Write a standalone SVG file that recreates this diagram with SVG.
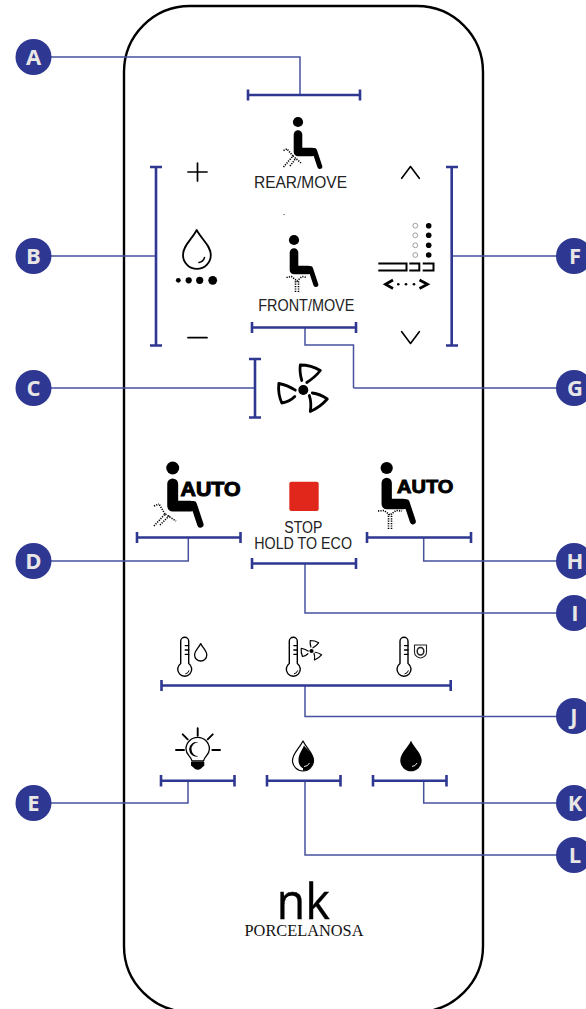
<svg xmlns="http://www.w3.org/2000/svg" width="586" height="1009" viewBox="0 0 586 1009">
<style>
.lead{fill:none;stroke:#47519f;stroke-width:1.5}
.br{fill:none;stroke:#2e3791;stroke-width:2.6}
.dot{fill:#2e3791}
.lt{font-family:"Open Sans","Noto Sans",sans-serif;font-weight:700;font-size:22px;fill:#e9e6e6;text-anchor:middle}
.lab{font-family:"Liberation Sans",Arial,sans-serif;font-size:16px;fill:#222}
.auto{font-family:"Liberation Sans",Arial,sans-serif;font-weight:700;fill:#000;stroke:#000}
.ic{fill:none;stroke:#000;stroke-linecap:round;stroke-linejoin:round}
.k{fill:#000}
.sp{fill:none;stroke:#000;stroke-width:1.600;stroke-dasharray:1.2 1.2}
</style>
<defs>
<g id="fig">
<circle cx="0" cy="0" r="5.100" fill="#000"/>
<path d="M0 12.500V30H14" fill="none" stroke="#000" stroke-width="8.600" stroke-linecap="round" stroke-linejoin="round"/>
<path d="M13 28.500H16.500L21.800 44.500" fill="none" stroke="#000" stroke-width="5" stroke-linecap="round" stroke-linejoin="round"/>
</g>
<path id="dropshape" d="M0 -15C-4 -7 -10.500 -2.500 -10.500 4.500A10.500 10.500 0 0 0 10.500 4.500C10.500 -2.500 4 -7 0 -15Z"/>
<g id="fan" class="ic">
<circle cx="0" cy="0" r="5" fill="#000" stroke="none"/>
<path d="M-1.500 -9.500Q-4 -18 -3 -25Q8 -25 17 -19.500Q12 -13 3.500 -7.500M-8 0.200Q-16 -5 -24.500 -6.500Q-25.500 4 -21.500 13Q-14 12 -8.500 6.500M6 5.500Q8.500 13 7 21.500Q17 17 24 9Q17 4 9 3" stroke-width="2.800"/>
</g>
<g id="thermo">
<path class="ic" stroke-width="1.400" d="M-4 -5.800V-28A4 4 0 0 1 4 -28V-5.800A7 7 0 1 1 -4 -5.800Z"/>
<path class="ic" stroke-width="1.300" stroke-linecap="butt" d="M0.500 -23.700H4M0.500 -19.300H4M0.500 -15H4"/>
<path class="ic" stroke-width="1" d="M1 4.500A4 4 0 0 0 4.300 1.500"/>
</g>
</defs>

<rect id="body" x="124" y="6" width="359" height="1006" rx="66" fill="#fff" stroke="#000" stroke-width="2.400"/>

<g id="connectors">
<path class="lead" d="M33 57H300V95M33 256H156M574 256H452M353.500 388H574M353.500 388V345H305V328M33 388H255M33 561H188.300V538M574 561H423.700V538M574 613H305V563M574 716.500H305V686M33 803H188V781M574 855H305V781M574 803H423.700V781"/>
<path class="br" d="M248 95H360M248 89.500V100.500M360 89.500V100.500"/>
<path class="br" d="M156 167V345.500M150 167H162M150 345.500H162"/>
<path class="br" d="M451.700 167V345.500M446 167H458M446 345.500H458"/>
<path class="br" d="M252 327.500H356M252 322V333M356 322V333"/>
<path class="br" d="M255 359V417.500M249 359H261M249 417.500H261"/>
<path class="br" d="M137 537.500H240.500M137 532V543M240.500 532V543"/>
<path class="br" d="M367 537.500H471M367 532V543M471 532V543"/>
<path class="br" d="M252 563.500H356M252 558V569M356 558V569"/>
<path class="br" d="M161.500 685.500H450.700M161.500 680V691M450.700 680V691"/>
<path class="br" d="M161 780.700H234.500M161 775V786.500M234.500 775V786.500"/>
<path class="br" d="M267 780.700H340.500M267 775V786.500M340.500 775V786.500"/>
<path class="br" d="M373 780.700H446.500M373 775V786.500M446.500 775V786.500"/>
</g>

<g id="badge-A"><circle class="dot" cx="33.500" cy="57" r="18"/><text class="lt" x="33.500" y="65">A</text></g>
<g id="badge-B"><circle class="dot" cx="33.500" cy="256" r="18"/><text class="lt" x="33.500" y="264">B</text></g>
<g id="badge-C"><circle class="dot" cx="33.500" cy="388" r="18"/><text class="lt" x="33.500" y="396">C</text></g>
<g id="badge-D"><circle class="dot" cx="33.500" cy="561" r="18"/><text class="lt" x="33.500" y="569">D</text></g>
<g id="badge-E"><circle class="dot" cx="33.500" cy="803" r="18"/><text class="lt" x="33.500" y="811">E</text></g>
<g id="badge-F"><circle class="dot" cx="574" cy="256" r="18"/><text class="lt" x="575" y="264">F</text></g>
<g id="badge-G"><circle class="dot" cx="574" cy="388" r="18"/><text class="lt" x="575" y="396">G</text></g>
<g id="badge-H"><circle class="dot" cx="574" cy="561" r="18"/><text class="lt" x="575" y="569">H</text></g>
<g id="badge-I"><circle class="dot" cx="574" cy="613" r="18"/><text class="lt" x="575" y="621">I</text></g>
<g id="badge-J"><circle class="dot" cx="574" cy="716" r="18"/><text class="lt" x="574" y="724">J</text></g>
<g id="badge-K"><circle class="dot" cx="574" cy="803" r="18"/><text class="lt" x="575" y="811">K</text></g>
<g id="badge-L"><circle class="dot" cx="574" cy="855" r="18"/><text class="lt" x="575" y="863">L</text></g>

<g id="rear-move">
<use href="#fig" x="298" y="122"/>
<path class="sp" d="M283.500 167L293 156L301 163M293 156L287 149M283.500 150.500L287 149M290 166L296 158"/>
<text class="lab" x="254" y="188" textLength="93" lengthAdjust="spacingAndGlyphs">REAR/MOVE</text>
</g>
<rect x="283.600" y="214" width="1" height="1" fill="#333"/>
<g id="front-move">
<use href="#fig" x="294" y="240"/>
<path class="sp" d="M295.500 292V280M298.500 292V280M286.500 277.500L291.500 276.500L297 281L302 276.500L307 277.500"/>
<text class="lab" x="258.300" y="311" textLength="96" lengthAdjust="spacingAndGlyphs">FRONT/MOVE</text>
</g>
<g id="water-pressure">
<path class="ic" stroke-width="1.700" stroke-linecap="butt" d="M197.500 163V181M188 172H207M188 337.700H207"/>
<path class="ic" stroke-width="1.800" d="M196.700 230C191.500 240 183 245.500 183 255A13.900 13.900 0 0 0 210.800 255C210.800 245.500 202 240 196.700 230Z"/>
<path class="ic" stroke-width="1.500" d="M199 262.500A7 7 0 0 0 204.500 257.500"/>
<circle class="k" cx="178.300" cy="280.300" r="2.400"/><circle class="k" cx="188.700" cy="280.300" r="3.100"/><circle class="k" cx="199.700" cy="280.300" r="3.600"/><circle class="k" cx="212.700" cy="280.300" r="4.400"/>
</g>
<g id="nozzle">
<path class="ic" stroke-width="1.600" stroke-linecap="butt" d="M401.700 178.300L410.500 166.500L419.300 178.300M401.700 331.700L410.500 343.500L419.300 331.700"/>
<g fill="#fff" stroke="#777" stroke-width="0.700"><circle cx="415.300" cy="225.700" r="2.400"/><circle cx="415.300" cy="235.300" r="2.400"/><circle cx="415.300" cy="245.300" r="2.400"/><circle cx="415.300" cy="255" r="2.400"/></g>
<circle class="k" cx="428.700" cy="225.700" r="2.800"/><circle class="k" cx="428.700" cy="235.300" r="2.800"/><circle class="k" cx="428.700" cy="245.300" r="2.800"/><circle class="k" cx="428.700" cy="255" r="2.800"/>
<path fill="none" stroke="#000" stroke-width="2" d="M378.300 263.500H406.500V270.500H378.300M409.300 263.500H419.300V270.500H409.300M422.700 263.500H433.500V270.500H422.700"/>
<path fill="none" stroke="#000" stroke-width="2.700" d="M393 280L385.500 284.300L393 288.500M419.500 280L427.500 284.300L419.500 288.500"/>
<circle class="k" cx="398.300" cy="284.300" r="1.300"/><circle class="k" cx="406" cy="284.300" r="1.300"/><circle class="k" cx="414" cy="284.300" r="1.300"/>
</g>
<g id="dryer"><use href="#fan" x="303.300" y="390"/></g>
<g id="auto-rear">
<use href="#fig" transform="translate(172.700 468) scale(1.270)"/>
<path class="sp" d="M154 526L165 514L176 521M165 514L159 504M154 506L159 504M160 525L170 515" stroke-width="1.800"/>
<text class="auto" x="180.500" y="495.500" font-size="19.500" stroke-width="1" textLength="60" lengthAdjust="spacingAndGlyphs">AUTO</text>
</g>
<g id="stop">
<rect x="289.300" y="481.700" width="29.400" height="29.400" rx="2" fill="#e1271b"/>
<text class="lab" x="284.300" y="532.700" textLength="38" lengthAdjust="spacingAndGlyphs">STOP</text>
<text class="lab" x="254.300" y="549" textLength="97.700" lengthAdjust="spacingAndGlyphs">HOLD TO ECO</text>
</g>
<g id="auto-front">
<use href="#fig" transform="translate(386.700 468) scale(1.200)"/>
<path class="sp" d="M388.500 529V514M391.500 529V514M378 511L384 510.500L390 515L396 510.500L402 511" stroke-width="1.500"/>
<text class="auto" x="397" y="493.300" font-size="17.500" stroke-width="0.900" textLength="56.300" lengthAdjust="spacingAndGlyphs">AUTO</text>
</g>
<g id="temp-water">
<use href="#thermo" x="184.700" y="669.300"/>
<use href="#dropshape" transform="translate(200.700 652.300) scale(0.580)" fill="none" stroke="#000" stroke-width="2.200" stroke-linejoin="round"/>
</g>
<g id="temp-air">
<use href="#thermo" x="293.300" y="669.300"/>
<use href="#fan" transform="translate(311.500 651) scale(0.420)"/>
</g>
<g id="temp-seat">
<use href="#thermo" x="404" y="669.300"/>
<path d="M414.500 645H426.500V652.500C426.500 655.500 423 658 420.500 658C418 658 414.500 655.500 414.500 652.500Z" fill="none" stroke="#222" stroke-width="1.100" stroke-linejoin="round"/>
<ellipse cx="420.500" cy="651.300" rx="3.300" ry="3.800" fill="none" stroke="#222" stroke-width="1.500"/>
</g>
<g id="night-light">
<path class="ic" stroke-width="1.900" stroke-linecap="butt" d="M197.700 728.300V735.700M176 750H184M212.300 750H220M182.700 734.300L187.700 739.300M212.700 734.300L207.700 739.300"/>
<path class="ic" stroke-width="1.300" d="M192 761C191 756 186 755 186 749A11.700 11.700 0 0 1 209.400 749C209.400 755 204.500 756 203.500 761Z"/>
<path class="k" d="M198.500 742.300A7.300 7.300 0 1 0 198.500 756.300A6 6 0 1 1 198.500 742.300Z"/>
<path class="k" d="M191 762H204.300V765.500L201 768.500Q197.700 771 194.500 768.500L191 765.500Z"/>
</g>
<g id="drop-half">
<use href="#dropshape" transform="translate(303 756)" fill="#fff" stroke="#000" stroke-width="1.200" stroke-linejoin="round"/>
<path class="k" d="M304 745.500C302 750.500 298.500 754 298.500 760C298.500 764 300 766.800 303 768.300V770.700A10.500 10.500 0 0 0 313.500 760.500C313.500 753.500 307.500 750 304 745.500Z"/>
<path fill="none" stroke="#fff" stroke-width="0.900" d="M304 766.500A6 6 0 0 0 309.500 763"/>
</g>
<g id="drop-full">
<use href="#dropshape" transform="translate(411 756) scale(1.020)" class="k"/>
<path fill="none" stroke="#fff" stroke-width="0.900" d="M412 766.500A6 6 0 0 0 417 763"/>
</g>
<g id="logo">
<text x="276.500" y="919.300" font-family="'Open Sans','Noto Sans',sans-serif" font-size="50" fill="#000" stroke="#000" stroke-width="0.300" textLength="53.500" lengthAdjust="spacingAndGlyphs">nk</text>
<text x="244.500" y="936" font-family="'Liberation Serif','Times New Roman',serif" font-size="16.500" fill="#111" textLength="119" lengthAdjust="spacingAndGlyphs">PORCELANOSA</text>
</g>
</svg>
